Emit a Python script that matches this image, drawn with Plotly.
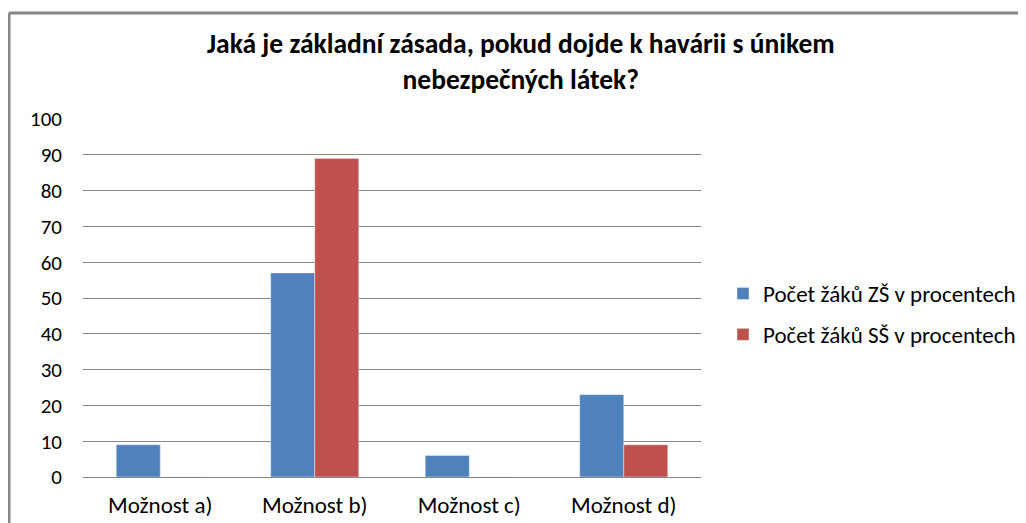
import plotly.graph_objects as go

categories = ["Možnost a)", "Možnost b)", "Možnost c)", "Možnost d)"]
zs_values = [9, 57, 6, 23]
ss_values = [0, 89, 0, 9]
series_names = ["Počet žáků ZŠ v procentech", "Počet žáků SŠ v procentech"]
y_ticks = [0, 10, 20, 30, 40, 50, 60, 70, 80, 90, 100]
title_text = "<b>Jaká je základní zásada, pokud dojde k havárii s únikem<br>nebezpečných látek?</b>"

FONT = "Carlito, Calibri, Lato, Liberation Sans Narrow, sans-serif"

# page has 8px body margin, so work in figure coords = screen - 8
OFF = 8
W, H = 1026 - OFF, 523 - OFF
L, R, T, B = 83 - OFF, W - (701 - OFF), 119 - OFF, H - (477 - OFF)
pw, ph = W - L - R, H - T - B

def px_x(x):
    return (x - OFF - L) / pw

def px_y(y):
    return (H - B - (y - OFF)) / ph

def cx(x):
    return (x - OFF) / W

def cy(y):
    return 1 - (y - OFF) / H

fig = go.Figure()
fig.add_trace(go.Bar(x=categories, y=zs_values, name=series_names[0],
                     marker_color="#4F81BD", legendgroup="zs"))
fig.add_trace(go.Bar(x=categories, y=ss_values, name=series_names[1],
                     marker_color="#C0504D", legendgroup="ss"))

fig.update_layout(
    width=W, height=H,
    margin=dict(l=L, r=R, t=T, b=B, autoexpand=False),
    paper_bgcolor="white", plot_bgcolor="white",
    barmode="group", bargap=0.43, bargroupgap=0,
    font=dict(family=FONT, size=23, color="#000000"),
    showlegend=True,
    legend=dict(xref="container", yref="container", x=cx(723), y=cy(272),
                xanchor="left", yanchor="top",
                font=dict(size=23, family=FONT, color="#000000"), tracegroupgap=8,
                itemwidth=30, bgcolor="rgba(0,0,0,0)"),
    xaxis=dict(showline=True, linecolor="#868686", linewidth=1, ticks="",
               tickfont=dict(size=23), showgrid=False, ticklabelstandoff=7),
    yaxis=dict(range=[0, 100], tickvals=y_ticks, showgrid=True, gridcolor="#868686",
               gridwidth=1, showline=False, zeroline=False, ticks="",
               tickfont=dict(size=21), ticklabelstandoff=20),
    annotations=[dict(text=title_text, xref="paper", yref="paper",
                      x=px_x(521), y=px_y(62), xanchor="center", yanchor="middle",
                      showarrow=False, font=dict(size=27.5, family=FONT, color="#000000"))],
    shapes=[
        dict(type="line", xref="paper", yref="paper", x0=px_x(9), x1=px_x(1040),
             y0=px_y(13), y1=px_y(13), line=dict(color="#868686", width=3)),
        dict(type="line", xref="paper", yref="paper", x0=px_x(9), x1=px_x(9),
             y0=px_y(13), y1=px_y(540), line=dict(color="#868686", width=3)),
    ],
)

fig.write_html("out.html")
